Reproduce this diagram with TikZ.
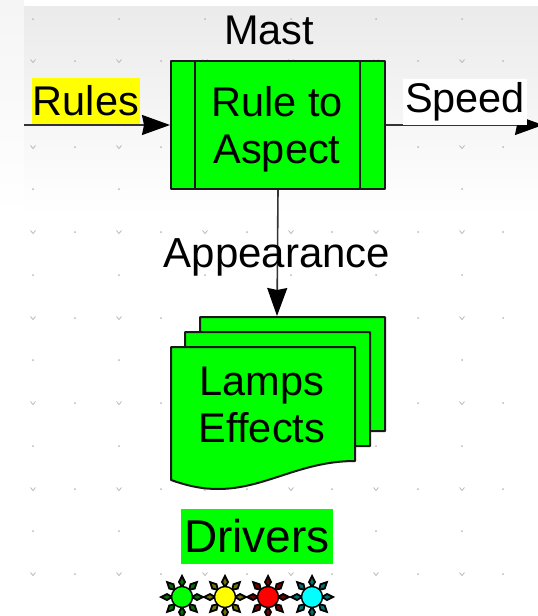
\documentclass[tikz,border=0pt]{standalone}
\usepackage{fontspec}
\setmainfont{Liberation Sans}
\usetikzlibrary{arrows.meta}
\definecolor{lampgreen}{RGB}{0,255,0}
\definecolor{labelyellow}{RGB}{255,255,0}
\definecolor{lampcyan}{RGB}{0,255,255}
\definecolor{gridgray}{RGB}{185,185,185}
\tikzset{
  bigtext/.style={font=\fontsize{41.5}{47}\selectfont,align=center,text=black},
  sheet/.style={draw=black!90,line width=2pt,fill=lampgreen,line join=round},
  link/.style={draw=black!80,line width=1.6pt,-{Stealth[length=28pt,width=20pt,inset=2pt,color=black]}},
  griddot/.style={fill=gridgray,circle,inner sep=0pt,minimum size=2pt},
  gridvee/.style={draw=gridgray,line width=0.8pt},
  bulb/.style={circle,draw=black,line width=1.4pt,inner sep=0pt,minimum size=21pt},
}
\newcommand{\lampstar}[3]{%
  \foreach \ang in {0,45,...,315}
    \draw[fill=#3!45!black,draw=black,line width=1.8pt,shift={(#2,597)},rotate=\ang]
      (10,0) -- (15,-3) -- (21,0) -- (15,3) -- cycle ;
  \node[bulb,fill=#3] (#1) at (#2,597) {};
}
\begin{document}
\begin{tikzpicture}[x=1pt,y=1pt,yscale=-1,xscale=1]
  \useasboundingbox (0,0) rectangle (538,616);
  % backdrop
  \shade[top color=black!4,bottom color=white] (0,0) rectangle (24,215);
  \shade[top color=black!8,bottom color=white] (24,6) rectangle (538,215);
  % grid marks
  \foreach \row in {19,104,189,275,360,446,531}
    \foreach \col in {33,119,205,291,376,462}
      \node[griddot] at (\col,\row) {};
  \foreach \row in {61,147,232,318,403,489,574} {
    \foreach \col in {75,161,247,332,418,503}
      \node[griddot] at (\col,\row) {};
    \foreach \col in {33,119,205,291,376,462}
      \draw[gridvee] (\col-2.5,\row-1.5) -- (\col,\row+1.5) -- (\col+2.5,\row-1.5);
  }
  % mast block
  \node[sheet,bigtext,minimum width=214pt,minimum height=128pt,inner sep=0pt] (ruleBox) at (278,125) {};
  \node[bigtext] (ruleText) at (277,129) {Rule to\\Aspect};
  \draw[sheet,fill=none] (195,61) -- (195,189) ;
  \draw[sheet,fill=none] (360,61) -- (360,189) ;
  \node[bigtext] (mastLabel) at (269,30) {Mast};
  % inputs and outputs
  \coordinate (rulesIn) at (24,125);
  \coordinate (speedOut) at (543,125);
  \draw[link] (rulesIn) -- (ruleBox.west);
  \draw[link] (ruleBox.east) -- (speedOut);
  \node[bigtext,fill=labelyellow,minimum width=108pt,minimum height=46pt,inner sep=0pt] (rulesLabel) at (86,101) {Rules};
  \node[bigtext,fill=white,minimum width=124pt,minimum height=46pt,inner sep=0pt] (speedLabel) at (465,102) {Speed};
  % stacked sheets
  \draw[sheet] (200,317) -- (385,317) -- (385,431) -- (350,431) -- (200,360) -- cycle ;
  \draw[sheet] (185,332) -- (370,332) -- (370,446) -- (340,446) -- (185,370) -- cycle ;
  \draw[sheet] (171,347) -- (355,347) -- (355,461)
     .. controls (300,461) and (265,489) .. (218,489)
     .. controls (200,489) and (185,485) .. (171,480) -- cycle ;
  \node[bigtext] (lampsText) at (262,405) {Lamps\\Effects};
  \coordinate (stackTop) at (277,316);
  \draw[link] (ruleBox.south) -- (stackTop);
  \node[font=\fontsize{42}{48}\selectfont] (appearanceLabel) at (277,257) {Appearance};
  % drivers
  \node[fill=lampgreen,minimum width=152pt,minimum height=55pt,inner sep=0pt,font=\fontsize{46}{52}\selectfont] (driversLabel) at (257,536) {Drivers};
  \lampstar{lampA}{182}{lampgreen}
  \lampstar{lampB}{225}{labelyellow}
  \lampstar{lampC}{268}{red}
  \lampstar{lampD}{312}{lampcyan}
\end{tikzpicture}
\end{document}
